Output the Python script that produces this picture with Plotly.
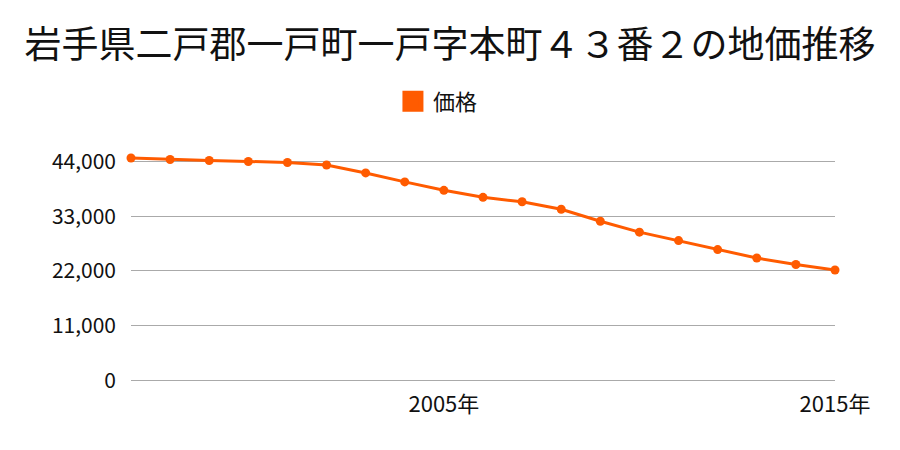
import plotly.graph_objects as go

years = list(range(1997, 2016))
prices = [44700, 44400, 44200, 44000, 43800, 43300, 41700, 39900, 38200, 36800,
          35900, 34400, 32000, 29800, 28100, 26300, 24600, 23300, 22200]
x_tickvals = [2005, 2015]
x_ticktext = ["2005年", "2015年"]
y_tickvals = [0, 11000, 22000, 33000, 44000]
y_ticktext = ["0", "11,000", "22,000", "33,000", "44,000"]

color = "#ff5b00"
font = "Noto Sans CJK JP"

fig = go.Figure()
fig.add_trace(go.Scatter(
    x=years, y=prices, mode="lines+markers",
    line=dict(color=color, width=3),
    marker=dict(color=color, size=9),
    showlegend=False, cliponaxis=False, name="価格",
))
fig.add_trace(go.Scatter(
    x=[None], y=[None], mode="markers", name="価格",
    marker=dict(color=color, size=16, symbol="square",
                line=dict(color=color, width=5)),
    showlegend=True,
))

fig.update_layout(
    width=900, height=450,
    paper_bgcolor="white", plot_bgcolor="white",
    margin=dict(l=131, r=65, t=154, b=68),
    font=dict(family=font, color="#111", size=18),
    title=dict(text="岩手県二戸郡一戸町一戸字本町４３番２の地価推移",
               x=0.5, xanchor="center", y=0.9, yanchor="middle",
               font=dict(size=37, family=font, color="#111")),
    legend=dict(orientation="h", x=0.436, xanchor="center",
                y=1.23, yanchor="middle",
                font=dict(size=22, family=font), itemsizing="trace"),
    xaxis=dict(range=[1997, 2015], tickvals=x_tickvals, ticktext=x_ticktext,
               showgrid=False, zeroline=False, showline=False, ticks="",
               ticklabelstandoff=7, tickfont=dict(size=22)),
    yaxis=dict(range=[-300, 45500], tickvals=y_tickvals, ticktext=y_ticktext,
               showgrid=True, gridcolor="#aaaaaa", gridwidth=1, zeroline=False,
               ticks="", ticklabelstandoff=14, tickfont=dict(size=21)),
)

fig.write_html("out.html")
